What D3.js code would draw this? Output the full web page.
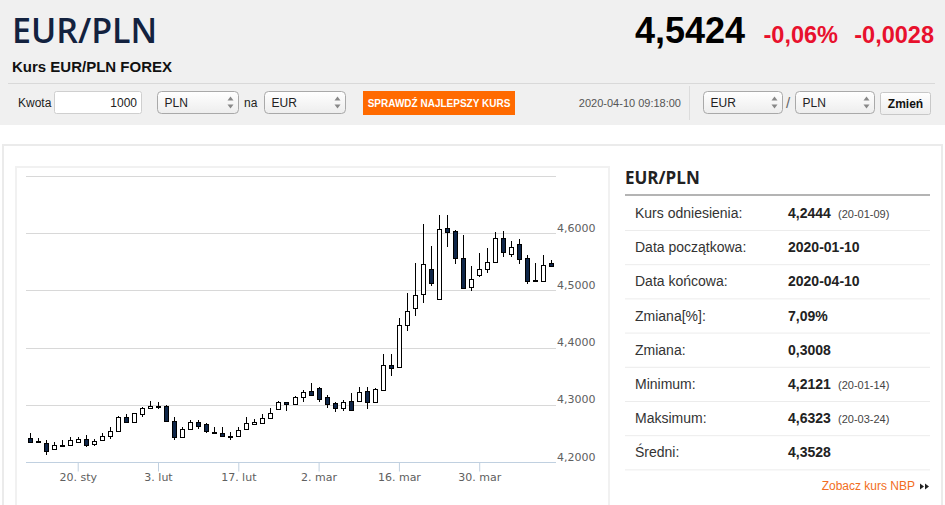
<!DOCTYPE html>
<html>
<head>
<meta charset="utf-8">
<script src="https://cdn.jsdelivr.net/npm/d3@7"></script>
<style>
  body { margin: 0; width: 945px; height: 505px; overflow: hidden; background: #fff; }
  svg { display: block; font-family: "Liberation Sans", Arial, sans-serif; }
</style>
</head>
<body>
<svg width="945" height="505"></svg>
<script>
// trading days shown on the chart (weekends skipped)
var dates = ["2020-01-10", "2020-01-13", "2020-01-14", "2020-01-15", "2020-01-16", "2020-01-17",
  "2020-01-20", "2020-01-21", "2020-01-22", "2020-01-23", "2020-01-24",
  "2020-01-27", "2020-01-28", "2020-01-29", "2020-01-30", "2020-01-31",
  "2020-02-03", "2020-02-04", "2020-02-05", "2020-02-06", "2020-02-07",
  "2020-02-10", "2020-02-11", "2020-02-12", "2020-02-13", "2020-02-14",
  "2020-02-17", "2020-02-18", "2020-02-19", "2020-02-20", "2020-02-21",
  "2020-02-24", "2020-02-25", "2020-02-26", "2020-02-27", "2020-02-28",
  "2020-03-02", "2020-03-03", "2020-03-04", "2020-03-05", "2020-03-06",
  "2020-03-09", "2020-03-10", "2020-03-11", "2020-03-12", "2020-03-13",
  "2020-03-16", "2020-03-17", "2020-03-18", "2020-03-19", "2020-03-20",
  "2020-03-23", "2020-03-24", "2020-03-25", "2020-03-26", "2020-03-27",
  "2020-03-30", "2020-03-31", "2020-04-01", "2020-04-02", "2020-04-03",
  "2020-04-06", "2020-04-07", "2020-04-08", "2020-04-09", "2020-04-10"];

var open = [4.2425, 4.2360, 4.2338, 4.2227, 4.2297, 4.2297,
  4.2356, 4.2397, 4.2310, 4.2385, 4.2460,
  4.2547, 4.2792, 4.2694, 4.2839, 4.2939,
  4.2980, 4.2985, 4.2722, 4.2442, 4.2577,
  4.2705, 4.2659, 4.2530, 4.2501, 4.2456,
  4.2460, 4.2572, 4.2664, 4.2677, 4.2775,
  4.2927, 4.3045, 4.3010, 4.3142, 4.3235,
  4.3288, 4.3142, 4.3026, 4.2939, 4.3066,
  4.3072, 4.3247, 4.3043, 4.3259, 4.3696,
  4.3656, 4.4395, 4.4687, 4.4932, 4.5369,
  4.4850, 4.6096, 4.6038, 4.5572, 4.5055,
  4.5269, 4.5369, 4.5491, 4.5911, 4.5631,
  4.5811, 4.5561, 4.5178, 4.5164, 4.5474];

var high = [4.2502, 4.2414, 4.2385, 4.2355, 4.2385, 4.2430,
  4.2444, 4.2472, 4.2397, 4.2502, 4.2607,
  4.2800, 4.2834, 4.2860, 4.2967, 4.3072,
  4.3045, 4.2990, 4.2792, 4.2620, 4.2733,
  4.2733, 4.2687, 4.2607, 4.2607, 4.2530,
  4.2618, 4.2782, 4.2745, 4.2833, 4.2939,
  4.3060, 4.3055, 4.3154, 4.3258, 4.3376,
  4.3306, 4.3171, 4.3055, 4.3084, 4.3212,
  4.3317, 4.3306, 4.3288, 4.3883, 4.3883,
  4.4512, 4.4949, 4.5484, 4.6156, 4.5781,
  4.6318, 4.6323, 4.6056, 4.5969, 4.5427,
  4.5649, 4.5736, 4.6026, 4.6038, 4.5864,
  4.5893, 4.5619, 4.5474, 4.5619, 4.5531];

var low = [4.2327, 4.2350, 4.2121, 4.2210, 4.2282, 4.2280,
  4.2350, 4.2268, 4.2285, 4.2362, 4.2397,
  4.2540, 4.2677, 4.2690, 4.2792, 4.2935,
  4.2927, 4.2720, 4.2385, 4.2435, 4.2570,
  4.2582, 4.2502, 4.2500, 4.2455, 4.2385,
  4.2455, 4.2559, 4.2660, 4.2670, 4.2763,
  4.2920, 4.2897, 4.3005, 4.3055, 4.3170,
  4.3049, 4.2939, 4.2869, 4.2897, 4.2905,
  4.3055, 4.2927, 4.3040, 4.3247, 4.3509,
  4.3650, 4.4296, 4.4552, 4.4774, 4.5077,
  4.4845, 4.5764, 4.5456, 4.5037, 4.4995,
  4.5229, 4.5310, 4.5488, 4.5578, 4.5589,
  4.5456, 4.5112, 4.5170, 4.5160, 4.5420];

var close = [4.2344, 4.2352, 4.2192, 4.2297, 4.2285, 4.2385,
  4.2397, 4.2297, 4.2373, 4.2460, 4.2547,
  4.2792, 4.2705, 4.2851, 4.2939, 4.2979,
  4.2975, 4.2722, 4.2442, 4.2572, 4.2694,
  4.2635, 4.2542, 4.2502, 4.2460, 4.2454,
  4.2559, 4.2677, 4.2705, 4.2775, 4.2862,
  4.3045, 4.3010, 4.3142, 4.3229, 4.3180,
  4.3101, 4.3014, 4.2939, 4.3055, 4.2909,
  4.3229, 4.3043, 4.3271, 4.3696, 4.3649,
  4.4395, 4.4640, 4.4920, 4.5456, 4.5135,
  4.6073, 4.6026, 4.5572, 4.5047, 4.5199,
  4.5369, 4.5491, 4.5911, 4.5666, 4.5753,
  4.5544, 4.5164, 4.5176, 4.5452, 4.5424];

var tickDates = ["2020-01-20", "2020-02-03", "2020-02-17", "2020-03-02", "2020-03-16", "2020-03-30"];
var tickLabels = ["20. sty", "3. lut", "17. lut", "2. mar", "16. mar", "30. mar"];
var gridValues = [4.2, 4.3, 4.4, 4.5, 4.6, 4.7];
var labelValues = [4.2, 4.3, 4.4, 4.5, 4.6];

// header texts
var pair = "EUR/PLN";
var lastRate = "4,5424";
var changePct = "-0,06%";
var changeAbs = "-0,0028";
var subtitle = "Kurs EUR/PLN FOREX";
var stamp = "2020-04-10 09:18:00";

// summary table
var statLabels = ["Kurs odniesienia:", "Data początkowa:", "Data końcowa:", "Zmiana[%]:",
  "Zmiana:", "Minimum:", "Maksimum:", "Średni:"];
var statValues = ["4,2444", "2020-01-10", "2020-04-10", "7,09%", "0,3008", "4,2121", "4,6323", "4,3528"];
var statNotes = ["(20-01-09)", "", "", "", "", "(20-01-14)", "(20-03-24)", ""];

var svg = d3.select("svg");

var defs = svg.append("defs");
var grad = defs.append("linearGradient").attr("id", "sel").attr("x1", 0).attr("x2", 0).attr("y1", 0).attr("y2", 1);
grad.append("stop").attr("offset", "0%").attr("stop-color", "#ffffff");
grad.append("stop").attr("offset", "100%").attr("stop-color", "#ededed");

// ---- header ----
svg.append("rect").attr("x", 0).attr("y", 0).attr("width", 945).attr("height", 125).attr("fill", "#f0f0f0");

svg.append("text").attr("x", 12).attr("y", 43).text(pair)
  .style("font", "600 34px 'Open Sans'").attr("fill", "#13223f");

svg.append("text").attr("x", 745).attr("y", 43).attr("text-anchor", "end").text(lastRate)
  .style("font", "bold 36px 'Liberation Sans'").attr("fill", "#000");
svg.append("text").attr("x", 838).attr("y", 43).attr("text-anchor", "end").text(changePct)
  .style("font", "bold 23.5px 'Liberation Sans'").attr("fill", "#e8112d");
svg.append("text").attr("x", 934).attr("y", 43).attr("text-anchor", "end").text(changeAbs)
  .style("font", "bold 23.5px 'Liberation Sans'").attr("fill", "#e8112d");

svg.append("text").attr("x", 12).attr("y", 72).text(subtitle)
  .style("font", "bold 15px 'Liberation Sans'").attr("fill", "#111");

svg.append("line").attr("x1", 8).attr("x2", 935).attr("y1", 83.5).attr("y2", 83.5).attr("stroke", "#d9d9d9");

function selectBox(x, w, label) {
  var g = svg.append("g").attr("transform", "translate(" + x + ",91.5)");
  g.append("rect").attr("width", w).attr("height", 22).attr("rx", 4)
    .attr("fill", "url(#sel)").attr("stroke", "#a9a9a9");
  g.append("text").attr("x", 7).attr("y", 15).text(label)
    .style("font", "12px 'Liberation Sans'").attr("fill", "#222");
  g.append("path").attr("d", "M" + (w - 11) + ",9 l3,-4 l3,4 z M" + (w - 11) + ",13 l3,4 l3,-4 z").attr("fill", "#888");
}

svg.append("text").attr("x", 18).attr("y", 107).text("Kwota").style("font", "12px 'Liberation Sans'").attr("fill", "#222");
svg.append("rect").attr("x", 54.5).attr("y", 91.5).attr("width", 87).attr("height", 22).attr("rx", 2)
  .attr("fill", "#fff").attr("stroke", "#cfcfcf");
svg.append("text").attr("x", 137).attr("y", 107).attr("text-anchor", "end").text("1000")
  .style("font", "12px 'Liberation Sans'").attr("fill", "#222");
selectBox(157.5, 81, "PLN");
svg.append("text").attr("x", 244).attr("y", 107).text("na").style("font", "12px 'Liberation Sans'").attr("fill", "#222");
selectBox(264.5, 81, "EUR");

svg.append("rect").attr("x", 363).attr("y", 91).attr("width", 152).attr("height", 24).attr("fill", "#ff6a00");
svg.append("text").attr("x", 439).attr("y", 107).attr("text-anchor", "middle").text("SPRAWDŹ NAJLEPSZY KURS")
  .style("font", "bold 10px 'Liberation Sans'").attr("fill", "#fff");

svg.append("text").attr("x", 681).attr("y", 107).attr("text-anchor", "end").text(stamp)
  .style("font", "11px 'Liberation Sans'").attr("fill", "#555");
svg.append("line").attr("x1", 689.5).attr("x2", 689.5).attr("y1", 86).attr("y2", 120).attr("stroke", "#dcdcdc");

selectBox(703.5, 79, "EUR");
svg.append("text").attr("x", 786).attr("y", 108).text("/").style("font", "15px 'Liberation Sans'").attr("fill", "#666");
selectBox(795.5, 79, "PLN");

svg.append("rect").attr("x", 880.5).attr("y", 92.5).attr("width", 50).attr("height", 22).attr("rx", 2)
  .attr("fill", "url(#sel)").attr("stroke", "#c8c8c8");
svg.append("text").attr("x", 905.5).attr("y", 108).attr("text-anchor", "middle").text("Zmień")
  .style("font", "bold 12px 'Liberation Sans'").attr("fill", "#111");

// ---- panels ----
svg.append("rect").attr("x", 3).attr("y", 145).attr("width", 939).attr("height", 380)
  .attr("fill", "#fff").attr("stroke", "#ebebeb").attr("stroke-width", 2);
svg.append("rect").attr("x", 16).attr("y", 167).attr("width", 593).attr("height", 360)
  .attr("fill", "#fff").attr("stroke", "#f1f1f1").attr("stroke-width", 2);

// ---- chart ----
var x = d3.scaleBand().domain(dates).range([26, 556]).paddingInner(0.35).paddingOuter(0.175);
var y = d3.scaleLinear().domain([4.2, 4.7]).range([462, 176]);

var plLocale = d3.formatLocale({ decimal: ",", thousands: " ", grouping: [3], currency: ["", " zł"] });
var fmt = plLocale.format(".4f");

svg.append("g").selectAll("line").data(gridValues).join("line")
  .attr("x1", 26).attr("x2", 556)
  .attr("y1", d => Math.round(y(d)) + 0.5).attr("y2", d => Math.round(y(d)) + 0.5)
  .attr("stroke", "#d8d8d8");

var yAxis = d3.axisRight(y).tickValues(labelValues).tickFormat(fmt).tickSize(0);
var yg = svg.append("g").attr("transform", "translate(557,0)").call(yAxis);
yg.select(".domain").remove();
yg.selectAll("text").attr("x", 0).attr("dy", 0).attr("y", -2)
  .attr("fill", "#606060").style("font", "11px 'DejaVu Sans'");

var xAxis = d3.axisBottom(x).tickValues(tickDates).tickFormat((d, i) => tickLabels[i]).tickSize(9);
var xg = svg.append("g").attr("transform", "translate(0,462.5)").call(xAxis);
xg.select(".domain").attr("stroke", "#c0d0e0").attr("d", "M26,0H556");
xg.selectAll(".tick line").attr("stroke", "#c0d0e0");
xg.selectAll(".tick text").attr("y", 18).attr("dy", 0)
  .attr("fill", "#606060").style("font", "11px 'DejaVu Sans'");

function cx(d) {
  return Math.floor(x(d) + x.bandwidth() / 2) + 0.5;
}

var candles = svg.append("g").selectAll("g").data(dates).join("g");

candles.append("line")
  .attr("x1", d => cx(d)).attr("x2", d => cx(d))
  .attr("y1", (d, i) => Math.round(y(high[i])))
  .attr("y2", (d, i) => Math.round(y(low[i])))
  .attr("stroke", "#000");

candles.append("rect")
  .attr("x", d => cx(d) - 2)
  .attr("width", 4)
  .attr("y", (d, i) => Math.round(y(Math.max(open[i], close[i]))) + 0.5)
  .attr("height", (d, i) => Math.max(1, Math.round(y(Math.min(open[i], close[i]))) - Math.round(y(Math.max(open[i], close[i])))))
  .attr("fill", (d, i) => close[i] < open[i] ? "#0e2548" : "#fff")
  .attr("stroke", "#000");

// ---- summary table ----
svg.append("text").attr("x", 625).attr("y", 184).text(pair)
  .style("font", "bold 17px 'Open Sans'").attr("fill", "#222");
svg.append("line").attr("x1", 625).attr("x2", 930).attr("y1", 195).attr("y2", 195)
  .attr("stroke", "#b4b4b4").attr("stroke-width", 2);

var rowY = d3.scaleLinear().domain([0, 1]).range([196, 230.2]);

var rows = svg.append("g").selectAll("g").data(statLabels).join("g")
  .attr("transform", (d, i) => "translate(0," + rowY(i) + ")");

rows.append("line").attr("x1", 625).attr("x2", 930).attr("y1", 34.5).attr("y2", 34.5).attr("stroke", "#ececec");
rows.append("text").attr("x", 635).attr("y", 22).text(d => d)
  .style("font", "14px 'Liberation Sans'").attr("fill", "#333");
rows.append("text").attr("x", 788).attr("y", 22).text((d, i) => statValues[i])
  .style("font", "bold 14px 'Liberation Sans'").attr("fill", "#222");
rows.append("text").attr("x", 838).attr("y", 22).text((d, i) => statNotes[i])
  .style("font", "11px 'Liberation Sans'").attr("fill", "#444");

svg.append("text").attr("x", 915).attr("y", 490).attr("text-anchor", "end").text("Zobacz kurs NBP")
  .style("font", "12px 'Liberation Sans'").attr("fill", "#f26d21");
svg.append("path").attr("d", "M920,483.5 l4,3 l-4,3 z M925,483.5 l4,3 l-4,3 z").attr("fill", "#222");
</script>
</body>
</html>
